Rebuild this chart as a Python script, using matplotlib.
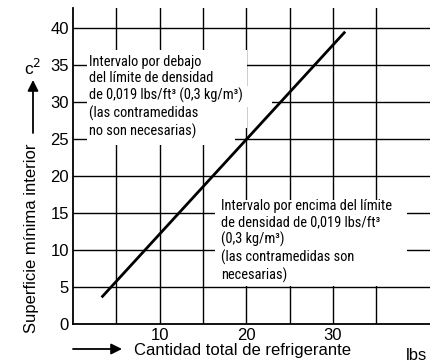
import matplotlib
matplotlib.use("Agg")
import matplotlib.pyplot as plt
from matplotlib.patches import Rectangle
from matplotlib import font_manager

# ---- data ----
line_x = [3.3, 31.4]          # total refrigerant (lbs)
line_y = [3.6, 39.5]          # minimum floor area
x_grid = [5, 10, 15, 20, 25, 30, 35]
x_labels = ["", "10", "", "20", "", "30", ""]
y_ticks = [0, 5, 10, 15, 20, 25, 30, 35, 40]
y_labels = ["0", "5", "10", "15", "20", "25", "30", "35", "40"]

text_below = ("Intervalo por debajo\ndel límite de densidad\n"
              "de 0,019 lbs/ft³ (0,3 kg/m³)\n(las contramedidas\nno son necesarias)")
text_above = ("Intervalo por encima del límite\nde densidad de 0,019 lbs/ft³\n"
              "(0,3 kg/m³)\n(las contramedidas son\nnecesarias)")

names = {f.name for f in font_manager.fontManager.ttflist}
REG = ["Liberation Sans", "DejaVu Sans"]
NAR = [n for n in ["Roboto Condensed", "Archivo Narrow"] if n in names] + REG

W, H = 430, 363
fig = plt.figure(figsize=(W / 100, H / 100), dpi=100)
L, B, T = 73, 324, 8
ax = fig.add_axes([L / W, 1 - B / H, (W - L) / W, (B - T) / H])

ax.set_xlim(0, (W - L) / 8.667)
ax.set_ylim(0, (B - T) / 7.4)

for s in ["top", "right"]:
    ax.spines[s].set_visible(False)
for s in ["left", "bottom"]:
    ax.spines[s].set_linewidth(1.3)
    ax.spines[s].set_zorder(5)

for xv in x_grid:
    ax.axvline(xv, color="black", lw=1.0, zorder=0.5)
for yv in y_ticks[1:]:
    ax.axhline(yv, color="black", lw=1.0, zorder=0.5)

ax.set_xticks(x_grid)
ax.set_xticklabels(x_labels)
ax.set_yticks(y_ticks)
ax.set_yticklabels(y_labels)
ax.tick_params(length=0, labelsize=12, pad=3)
for lab in ax.get_xticklabels() + ax.get_yticklabels():
    lab.set_family(REG)

# white masks behind the annotation blocks
masks = [
    (1.6, 26.5, 20.1 - 1.6, 37.0 - 26.5),
    (1.6, 29.3, 23.0 - 1.6, 32.2 - 29.3),
    (1.6, 24.2, 18.7 - 1.6, 26.6 - 24.2),
    (16.4, 5.1, 38.5 - 16.4, 16.8 - 5.1),
]
for (mx, my, mw, mh) in masks:
    ax.add_patch(Rectangle((mx, my), mw, mh, facecolor="white",
                           edgecolor="none", zorder=1))

ax.plot(line_x, line_y, color="black", lw=2.0, zorder=3,
        solid_capstyle="butt")

# fit narrow font size so the first line of the lower block is ~171 px wide
renderer = fig.canvas.get_renderer()
probe = fig.text(0, 0, "Intervalo por encima del límite", fontsize=10, family=NAR)
wpx = probe.get_window_extent(renderer).width
probe.remove()
nsize = 10 * 171.0 / wpx

t1 = ax.text(1.85, 36.35, text_below, ha="left", va="top", fontsize=nsize,
             family=NAR, linespacing=1.22, zorder=4)
t2 = ax.text(17.1, 16.95, text_above, ha="left", va="top", fontsize=nsize,
             family=NAR, linespacing=1.22, zorder=4)

# axis labels and arrows
fig.text(32 / W, 1 - 238 / H, "Superficie mínima interior", rotation=90,
         ha="center", va="center", fontsize=12, family=REG)
fig.text(33 / W, 1 - 68 / H, "c$^{2}$", ha="center", va="center",
         fontsize=12.5, family=REG)
ax.annotate("", xy=(33 / W, 1 - 80 / H), xytext=(33 / W, 1 - 133 / H),
            xycoords="figure fraction", textcoords="figure fraction",
            arrowprops=dict(arrowstyle="-|>", mutation_scale=16, lw=1.3,
                            color="black", shrinkA=0, shrinkB=0))
ax.annotate("", xy=(122 / W, 1 - 349 / H), xytext=(73 / W, 1 - 349 / H),
            xycoords="figure fraction", textcoords="figure fraction",
            arrowprops=dict(arrowstyle="-|>", mutation_scale=16, lw=1.3,
                            color="black", shrinkA=0, shrinkB=0))
fig.text(134 / W, 1 - 351 / H, "Cantidad total de refrigerante",
         ha="left", va="center", fontsize=12, family=REG)
fig.text(406 / W, 1 - 355 / H, "lbs", ha="left", va="center",
         fontsize=12, family=REG)

fig.savefig("out.png", dpi=100)
